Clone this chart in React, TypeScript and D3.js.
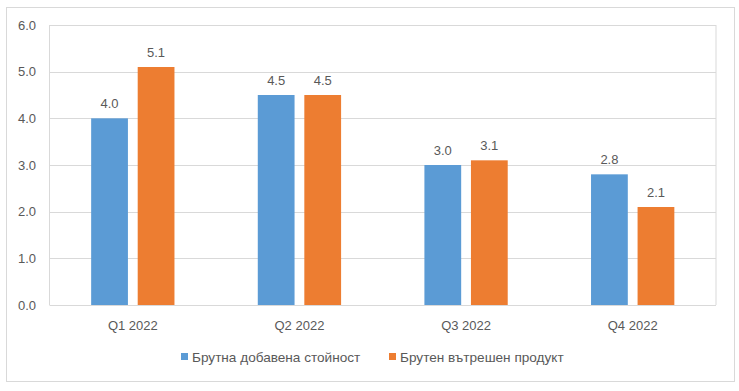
import React from "react";
import * as d3 from "d3";

const categories = ["Q1 2022", "Q2 2022", "Q3 2022", "Q4 2022"];
const seriesNames = ["Брутна добавена стойност", "Брутен вътрешен продукт"];
const gvaValues = [4.0, 4.5, 3.0, 2.8];
const gdpValues = [5.1, 4.5, 3.1, 2.1];
const yTicks = [0, 1, 2, 3, 4, 5, 6];
const colors = ["#5B9BD5", "#ED7D31"];

const W = 739;
const H = 391;
const plot = { left: 49.5, right: 716, top: 25, bottom: 305 };
const font = "'Liberation Sans', Arial, sans-serif";
const textColor = "#595959";

export default function App() {
  const x0 = d3
    .scaleBand()
    .domain(categories)
    .range([plot.left, plot.right])
    .paddingInner(0.5)
    .paddingOuter(0.25);
  const x1 = d3
    .scaleBand()
    .domain(seriesNames)
    .range([0, x0.bandwidth()])
    .paddingInner(0.21);
  const y = d3.scaleLinear().domain([0, 6]).range([plot.bottom, plot.top]);
  const series = [gvaValues, gdpValues];

  // legend layout
  const legendY = 357;
  const legendItems = [
    { x: 181, name: seriesNames[0], color: colors[0] },
    { x: 389, name: seriesNames[1], color: colors[1] },
  ];

  return (
    <svg
      width={W}
      height={H}
      style={{ position: "absolute", left: 0, top: 0, background: "#fff" }}
      fontFamily={font}
    >
      <rect x={6.5} y={7.5} width={728} height={374} fill="#fff" stroke="#D9D9D9" />

      {/* gridlines */}
      {yTicks.map((t) => (
        <line
          key={t}
          x1={plot.left}
          x2={plot.right}
          y1={Math.round(y(t)) + 0.5}
          y2={Math.round(y(t)) + 0.5}
          stroke="#D9D9D9"
        />
      ))}
      <line x1={plot.left} x2={plot.left} y1={plot.top} y2={plot.bottom} stroke="#D9D9D9" />
      <line x1={plot.right} x2={plot.right} y1={plot.top} y2={plot.bottom} stroke="#D9D9D9" />

      {/* y labels */}
      {yTicks.map((t) => (
        <text
          key={t}
          x={36}
          y={y(t)}
          dy="0.35em"
          textAnchor="end"
          fontSize={13}
          fill={textColor}
        >
          {d3.format(".1f")(t)}
        </text>
      ))}

      {/* bars */}
      {categories.map((c, i) => (
        <g key={c} transform={`translate(${x0(c)},0)`}>
          {seriesNames.map((s, j) => {
            const v = series[j][i];
            return (
              <g key={s}>
                <rect
                  x={x1(s)}
                  y={y(v)}
                  width={x1.bandwidth()}
                  height={y(0) - y(v)}
                  fill={colors[j]}
                />
                <text
                  x={(x1(s) as number) + x1.bandwidth() / 2}
                  y={y(v) - 10}
                  textAnchor="middle"
                  fontSize={13}
                  fill={textColor}
                >
                  {d3.format(".1f")(v)}
                </text>
              </g>
            );
          })}
          <text
            x={x0.bandwidth() / 2}
            y={plot.bottom + 20}
            dy="0.35em"
            textAnchor="middle"
            fontSize={13}
            fill={textColor}
          >
            {c}
          </text>
        </g>
      ))}

      {/* legend */}
      {legendItems.map((l) => (
        <g key={l.name}>
          <rect x={l.x} y={legendY - 4} width={7} height={7} fill={l.color} />
          <text x={l.x + 11} y={legendY} dy="0.35em" fontSize={13.6} fill={textColor}>
            {l.name}
          </text>
        </g>
      ))}
    </svg>
  );
}
